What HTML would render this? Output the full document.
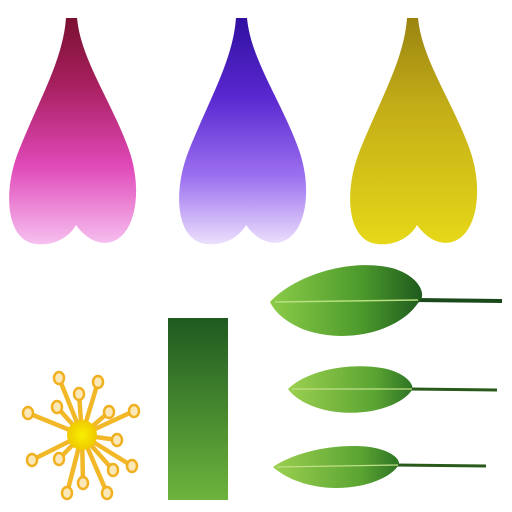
<!DOCTYPE html>
<html><head><meta charset="utf-8"><style>html,body{margin:0;padding:0;background:#fff}svg{display:block}</style></head>
<body>
<svg width="512" height="512" viewBox="0 0 512 512">
<defs>
<linearGradient id="gp" x1="0" y1="0" x2="0" y2="1"><stop offset="0" stop-color="#7a1030"/><stop offset="0.3" stop-color="#a82060"/><stop offset="0.65" stop-color="#e048b8"/><stop offset="1" stop-color="#f6c0f0"/></linearGradient>
<linearGradient id="gv" x1="0" y1="0" x2="0" y2="1"><stop offset="0" stop-color="#3010a0"/><stop offset="0.35" stop-color="#5a28d0"/><stop offset="0.7" stop-color="#9c70f0"/><stop offset="1" stop-color="#ece0fc"/></linearGradient>
<linearGradient id="gy" x1="0" y1="0" x2="0" y2="1"><stop offset="0" stop-color="#9a8410"/><stop offset="0.4" stop-color="#c4ae18"/><stop offset="1" stop-color="#e6d818"/></linearGradient>
<linearGradient id="gs" x1="0" y1="0" x2="0" y2="1"><stop offset="0" stop-color="#1e5a20"/><stop offset="1" stop-color="#6cb43c"/></linearGradient>
<linearGradient id="gl" x1="0" y1="0" x2="1" y2="0"><stop offset="0" stop-color="#8ccc48"/><stop offset="0.6" stop-color="#4c9a2c"/><stop offset="1" stop-color="#1e5a1e"/></linearGradient>
<linearGradient id="gl2" x1="0" y1="0" x2="1" y2="0"><stop offset="0" stop-color="#9cd050"/><stop offset="0.7" stop-color="#5aa432"/><stop offset="1" stop-color="#2e7424"/></linearGradient>
<radialGradient id="gc"><stop offset="0" stop-color="#f8f000"/><stop offset="1" stop-color="#f0c800"/></radialGradient>
<path id="petal" d="M-5,18 L6,18 C10,60 40,100 58,150 C72,190 65,235 40,242 C25,246 12,235 5,225 C-2,238 -20,248 -40,243 C-65,235 -68,190 -52,150 C-32,100 -8,60 -5,18 Z"/>
</defs>
<use href="#petal" x="71" fill="url(#gp)"/>
<use href="#petal" x="241" fill="url(#gv)"/>
<use href="#petal" x="412" fill="url(#gy)"/>
<rect x="168" y="318" width="60" height="182" fill="url(#gs)"/>
<g>
<line x1="415" y1="300" x2="502" y2="301" stroke="#1a4a1a" stroke-width="4"/>
<path d="M270,302 C295,275 350,258 392,268 C420,276 428,296 418,303 C400,330 350,345 305,330 C285,322 275,312 270,302 Z" fill="url(#gl)"/>
<path d="M275,302 L418,300" stroke="#b8e080" stroke-width="1.5" fill="none"/>
</g>
<g>
<line x1="410" y1="389" x2="497" y2="390" stroke="#2a5a1a" stroke-width="3"/>
<path d="M288,389 C305,372 345,362 382,368 C405,372 415,385 412,390 C400,408 360,418 325,410 C305,405 294,397 288,389 Z" fill="url(#gl2)"/>
<path d="M292,389 L412,389" stroke="#c0e088" stroke-width="1.2" fill="none"/>
</g>
<g>
<line x1="395" y1="465" x2="486" y2="466" stroke="#2a5a1a" stroke-width="3"/>
<path d="M273,467 C295,452 335,443 370,447 C395,451 402,462 398,466 C385,484 345,492 315,486 C295,482 282,475 273,467 Z" fill="url(#gl2)"/>
<path d="M277,467 L398,465" stroke="#c0e088" stroke-width="1.2" fill="none"/>
</g>
<g id="stamen"></g>
</svg>
<script>
const ends=[[59,378],[98,382],[79,394],[57,407],[109,412],[134,411],[28,413],[117,440],[32,460],[59,459],[132,466],[113,470],[83,483],[67,493],[107,493]];
const g=document.getElementById('stamen');
const ns='http://www.w3.org/2000/svg';
const cx=82,cy=435;
ends.forEach(e=>{
 const l=document.createElementNS(ns,'line');
 
 
 l.setAttribute('x1',cx);l.setAttribute('y1',cy);l.setAttribute('x2',e[0]);l.setAttribute('y2',e[1]);
 l.setAttribute('stroke','#f2b828');l.setAttribute('stroke-width','4.5');l.setAttribute('stroke-linecap','round');
 g.appendChild(l);
 const c=document.createElementNS(ns,'ellipse');
 
 
 c.setAttribute('cx',e[0]);c.setAttribute('cy',e[1]);c.setAttribute('rx','5');c.setAttribute('ry','6');
 c.setAttribute('fill','#fbe8b8');c.setAttribute('stroke','#f0b020');c.setAttribute('stroke-width','2.5');
 g.appendChild(c);
});
const cc=document.createElementNS(ns,'circle');


cc.setAttribute('cx',cx);cc.setAttribute('cy',cy);cc.setAttribute('r','15');cc.setAttribute('fill','url(#gc)');
g.appendChild(cc);
</script>
</body></html>
